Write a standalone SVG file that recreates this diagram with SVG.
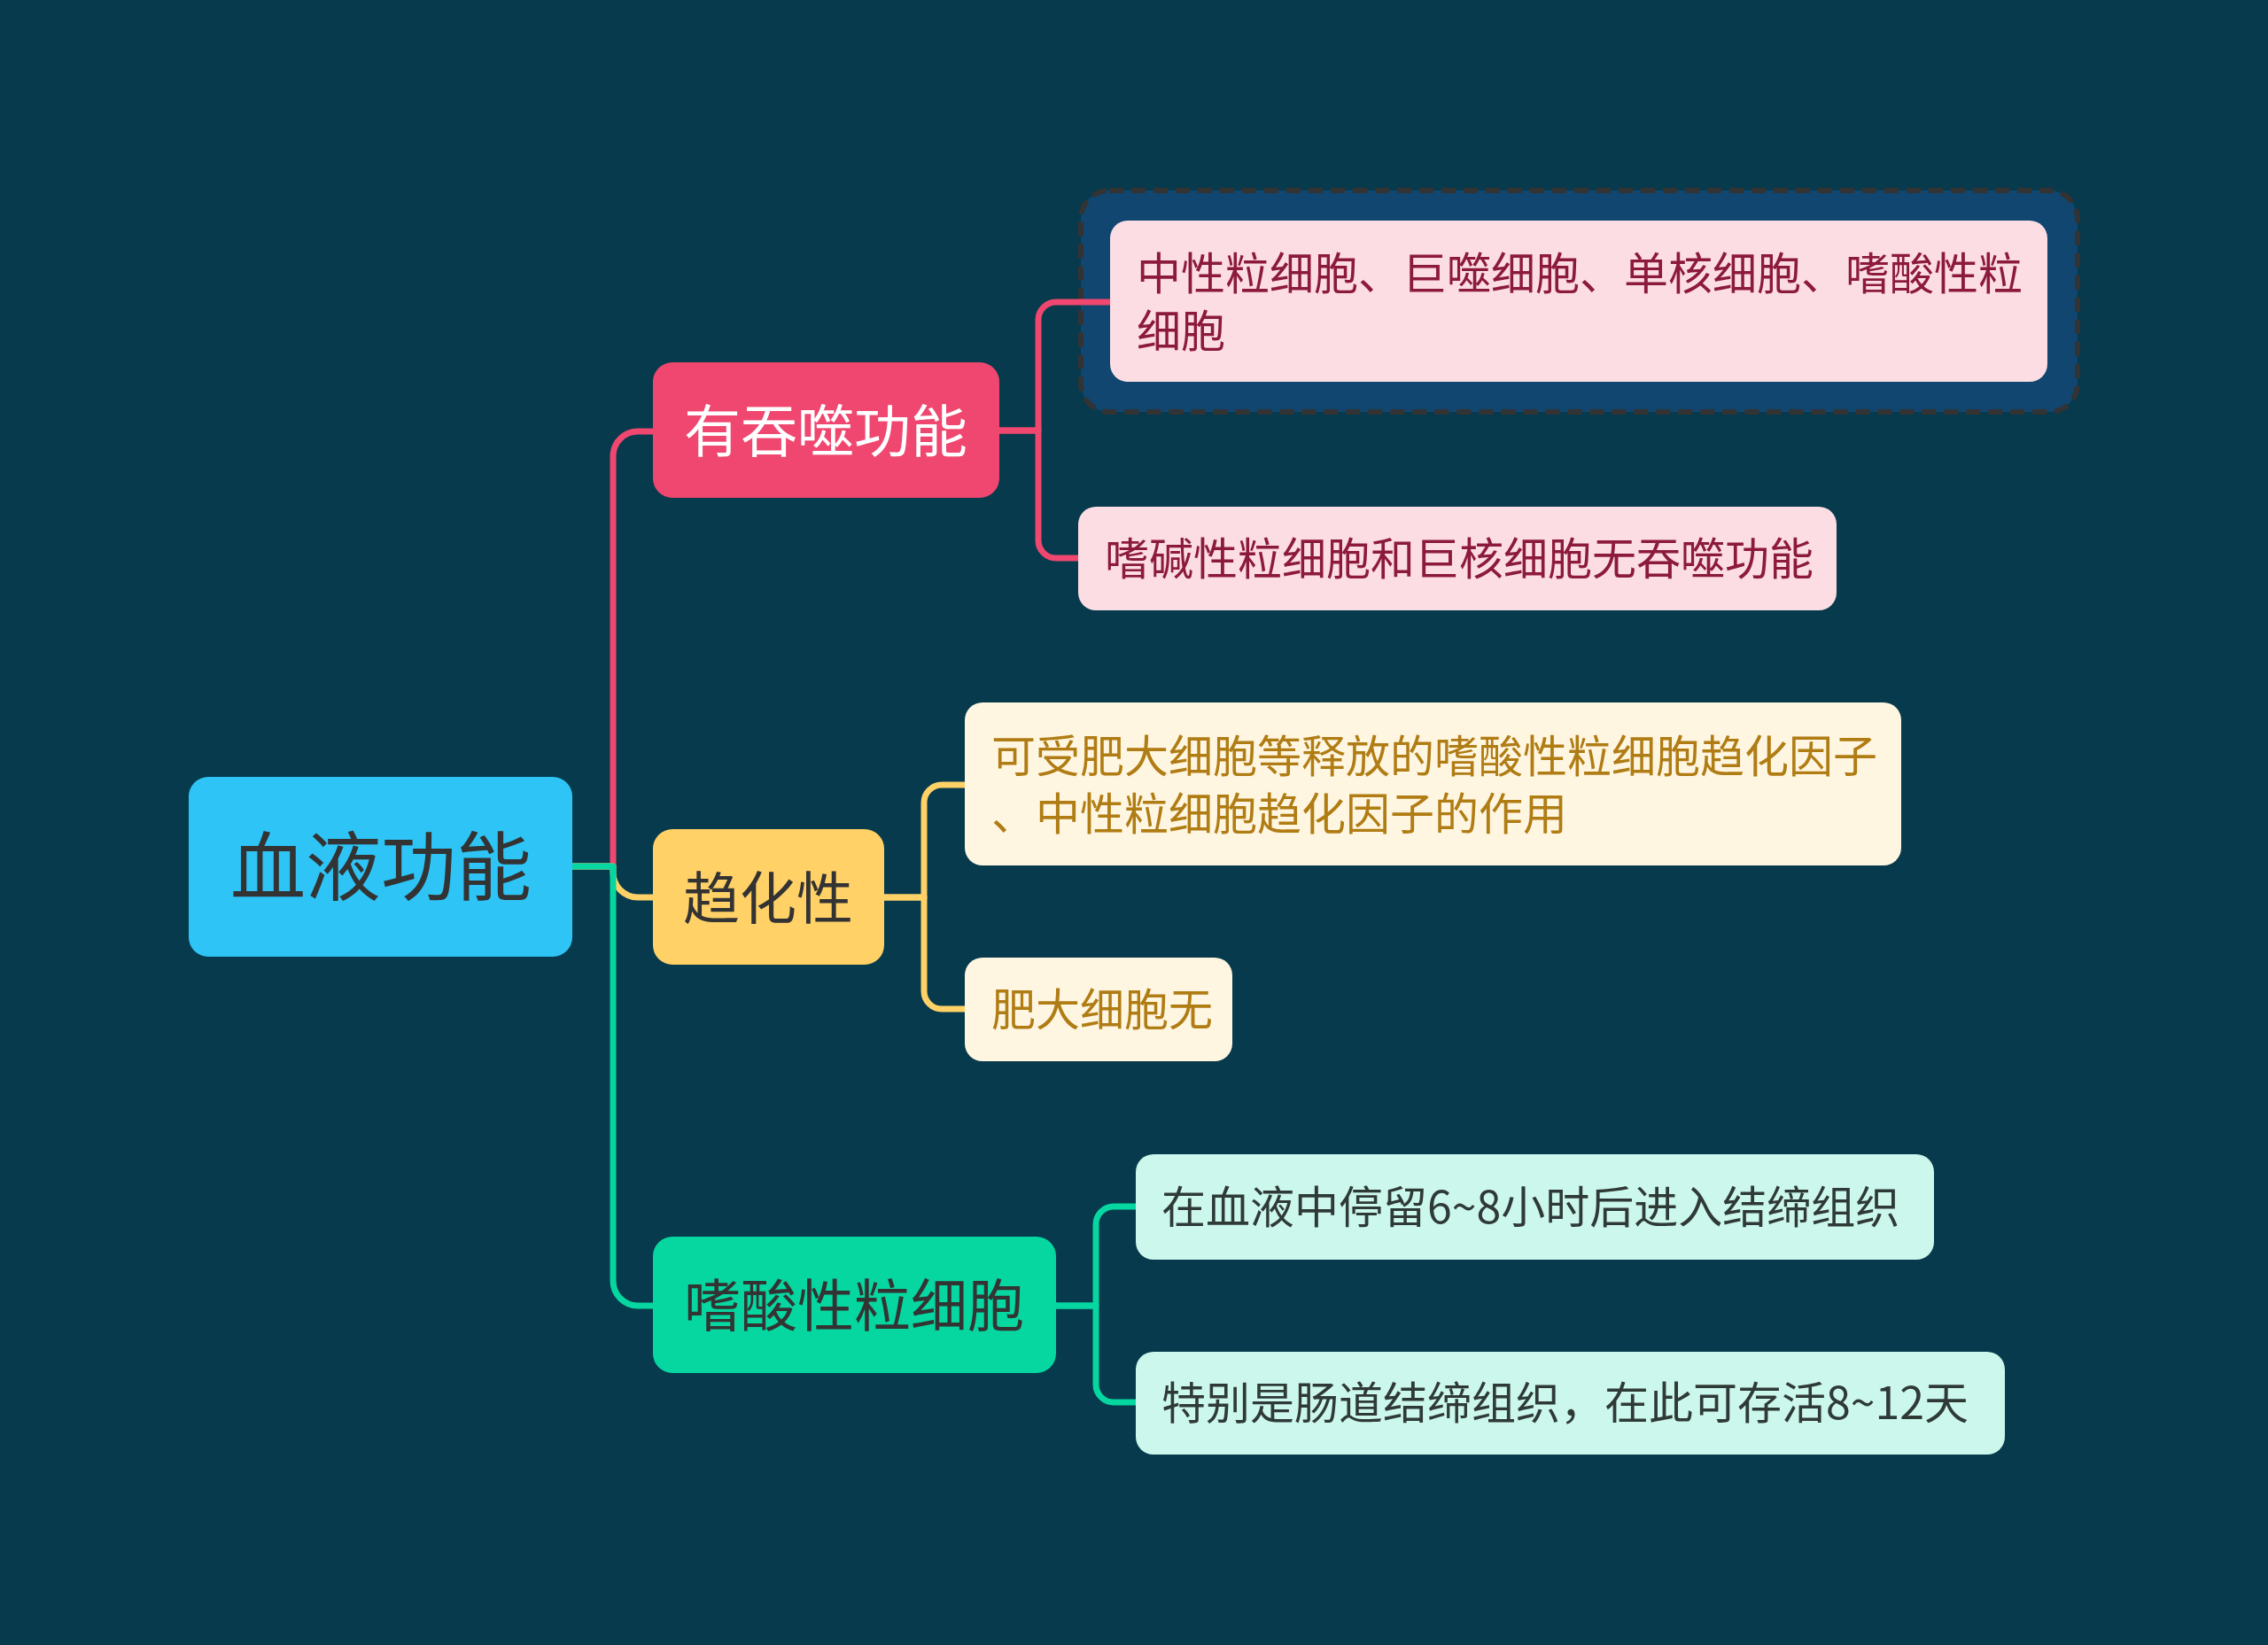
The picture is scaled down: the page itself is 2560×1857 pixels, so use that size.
<svg xmlns="http://www.w3.org/2000/svg" width="2560" height="1857" viewBox="0 0 2560 1857">
<style>
text{font-family:"Noto Sans CJK SC","Noto Sans",sans-serif;dominant-baseline:central}
.c{fill:none;stroke-width:7;stroke-linecap:butt;stroke-linejoin:round}
.main{font-size:64px;text-anchor:middle}
.leaf{font-size:50px}
.pk{fill:#FCDDE4}.pkt{fill:#8C1A3C}
.cr{fill:#FFF6E1}.crt{fill:#B07C14}
.mn{fill:#CCF7EC}.mnt{fill:#2F3A37}
</style>
<rect width="2560" height="1857" fill="#073A4C"/>
<g id="boundary">
<rect x="1220" y="215" width="1125" height="250" rx="32" fill="#104670" stroke="#333333" stroke-width="6" stroke-dasharray="16 9"/>
</g>
<g id="connectors">
<path class="c" stroke="#EF476F" d="M646,978 H692 V515 A28,28 0 0 1 720,487 H738"/>
<path class="c" stroke="#FFD166" d="M646,978 H692 V985 A28,28 0 0 0 720,1013 H738"/>
<path class="c" stroke="#06D6A0" d="M646,978 H692 V1446 A28,28 0 0 0 720,1474 H738"/>
<path class="c" stroke="#EF476F" d="M1128,486 H1172 V361 A20,20 0 0 1 1192,341 H1254"/>
<path class="c" stroke="#EF476F" d="M1128,486 H1172 V610 A20,20 0 0 0 1192,630 H1218"/>
<path class="c" stroke="#FFD166" d="M998,1013 H1043 V906 A20,20 0 0 1 1063,886 H1090"/>
<path class="c" stroke="#FFD166" d="M998,1013 H1043 V1119 A20,20 0 0 0 1063,1139 H1090"/>
<path class="c" stroke="#06D6A0" d="M1192,1474 H1237 V1382 A20,20 0 0 1 1257,1362 H1283"/>
<path class="c" stroke="#06D6A0" d="M1192,1474 H1237 V1563 A20,20 0 0 0 1257,1583 H1283"/>
</g>
<g id="root">
<rect x="213" y="877" width="433" height="203" rx="22" fill="#2EC4F6"/>
<text x="430" y="972" font-size="85" text-anchor="middle" fill="#333333">血液功能</text>
</g>
<g id="n1">
<rect x="737" y="409" width="391" height="153" rx="22" fill="#EF476F"/>
<text class="main" x="932" y="482" fill="#FFFFFF">有吞噬功能</text>
</g>
<g id="n2">
<rect x="737" y="936" width="261" height="153" rx="22" fill="#FFD166"/>
<text class="main" x="867" y="1009" fill="#333333">趋化性</text>
</g>
<g id="n3">
<rect x="737" y="1396" width="455" height="154" rx="22" fill="#06D6A0"/>
<text class="main" x="964" y="1469" fill="#333333">嗜酸性粒细胞</text>
</g>
<g id="l1">
<rect class="pk" x="1253" y="249" width="1058" height="182" rx="20"/>
<text class="leaf pkt" x="1283" y="305">中性粒细胞、巨噬细胞、单核细胞、嗜酸性粒</text>
<text class="leaf pkt" x="1283" y="370">细胞</text>
</g>
<g id="l2">
<rect class="pk" x="1217" y="572" width="856" height="117" rx="20"/>
<text class="leaf pkt" x="1247" y="627">嗜碱性粒细胞和巨核细胞无吞噬功能</text>
</g>
<g id="l3">
<rect class="cr" x="1089" y="793" width="1057" height="184" rx="20"/>
<text class="leaf crt" x="1119" y="850">可受肥大细胞等释放的嗜酸性粒细胞趋化因子</text>
<text class="leaf crt" x="1119" y="915">、中性粒细胞趋化因子的作用</text>
</g>
<g id="l4">
<rect class="cr" x="1089" y="1081" width="302" height="117" rx="20"/>
<text class="leaf crt" x="1119" y="1136">肥大细胞无</text>
</g>
<g id="l5">
<rect class="mn" x="1282" y="1303" width="901" height="119" rx="20"/>
<text class="leaf mnt" x="1311" y="1359">在血液中停留6~8小时后进入结缔组织</text>
</g>
<g id="l6">
<rect class="mn" x="1282" y="1526" width="981" height="116" rx="20"/>
<text class="leaf mnt" x="1311" y="1580">特别是肠道结缔组织，在此可存活8~12天</text>
</g>
</svg>
